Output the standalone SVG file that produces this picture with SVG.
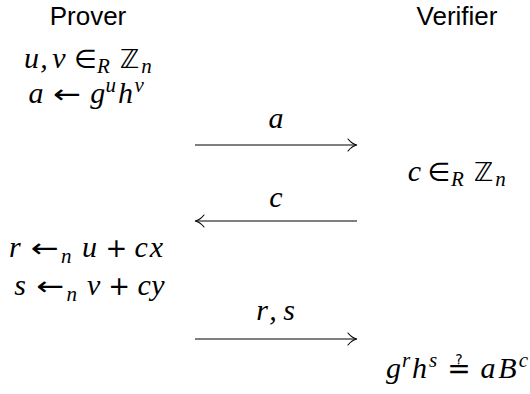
<svg xmlns="http://www.w3.org/2000/svg" width="530" height="394" viewBox="0 0 530 394">
<style>
.t{font-family:"Liberation Sans",Arial,sans-serif;font-size:26px;fill:#000}
.m,.o,.z{text-anchor:middle;fill:#000}
.m{font-family:"Liberation Serif","DejaVu Serif",serif;font-size:30px;font-style:italic}
.o{font-family:"DejaVu Sans",sans-serif;font-size:26px}
.z{font-family:"DejaVu Sans","DejaVu Serif",sans-serif;font-size:26px}
.e{font-family:"DejaVu Sans","DejaVu Serif",sans-serif;font-size:28px;text-anchor:middle;fill:#000}
.s{font-size:21px}
.ln{stroke:#000;stroke-width:1.1;fill:none}
.hd{stroke:#000;stroke-width:1.1;fill:none;stroke-linecap:round}
</style>
<rect width="530" height="394" fill="#fff"/>
<g id="prover">
<text class="t" x="88" y="25" text-anchor="middle">Prover</text>
<g id="p-line1">
<text class="m" x="31.4" y="68">u</text><text class="m" x="44" y="68">,</text><text class="m" x="59" y="68">v</text>
<text class="o" x="85.5" y="68">∈</text><text class="m s" x="103.5" y="73">R</text>
<text class="z" x="129.6" y="68">ℤ</text><text class="m s" x="146.5" y="73">n</text>
</g>
<g id="p-line2">
<text class="m" x="35.9" y="103">a</text><text class="o" x="67.2" y="103" textLength="28" lengthAdjust="spacingAndGlyphs">←</text>
<text class="m" x="97.7" y="103">g</text><text class="m s" x="110.8" y="92">u</text>
<text class="m" x="125.5" y="103">h</text><text class="m s" x="139.2" y="92">v</text>
</g>
<g id="p-line3">
<text class="m" x="14.8" y="257">r</text><text class="o" x="44.9" y="257" textLength="28" lengthAdjust="spacingAndGlyphs">←</text><text class="m s" x="66.2" y="263">n</text>
<text class="m" x="89.4" y="257">u</text><text class="o" x="116.3" y="257">+</text>
<text class="m" x="141.2" y="257">c</text><text class="m" x="156.3" y="257">x</text>
</g>
<g id="p-line4">
<text class="m" x="20" y="295">s</text><text class="o" x="50.4" y="295" textLength="28" lengthAdjust="spacingAndGlyphs">←</text><text class="m s" x="71.7" y="301">n</text>
<text class="m" x="93.6" y="295">v</text><text class="o" x="119.2" y="295">+</text>
<text class="m" x="144.1" y="295">c</text><text class="m" x="158" y="295">y</text>
</g>
</g>
<g id="verifier">
<text class="t" x="457" y="25" text-anchor="middle">Verifier</text>
<g id="v-line1">
<text class="m" x="414.4" y="181">c</text><text class="o" x="439" y="181">∈</text><text class="m s" x="457.3" y="186">R</text>
<text class="z" x="483.6" y="181">ℤ</text><text class="m s" x="500.5" y="186">n</text>
</g>
<g id="v-line2">
<text class="m" x="393.5" y="378">g</text><text class="m s" x="406" y="367">r</text>
<text class="m" x="419.5" y="378">h</text><text class="m s" x="433" y="367">s</text>
<text class="e" x="459" y="378">≟</text>
<text class="m" x="488" y="378">a</text><text class="m" x="507.5" y="378">B</text><text class="m s" x="523.5" y="367">c</text>
</g>
</g>
<g id="connectors">
<line class="ln" x1="195" y1="145" x2="356" y2="145"/>
<path class="hd" d="M348 139 Q352 144 357 145 Q352 146 348 151"/>
<text class="m" x="276" y="128">a</text>
<line class="ln" x1="196" y1="221" x2="357" y2="221"/>
<path class="hd" d="M204 215 Q200 220 195 221 Q200 222 204 227"/>
<text class="m" x="276" y="207">c</text>
<text class="m" x="262" y="320">r</text><text class="m" x="273" y="320">,</text><text class="m" x="289" y="320">s</text>
<line class="ln" x1="195" y1="339" x2="356" y2="339"/>
<path class="hd" d="M348 333 Q352 338 357 339 Q352 340 348 345"/>
</g>
</svg>
